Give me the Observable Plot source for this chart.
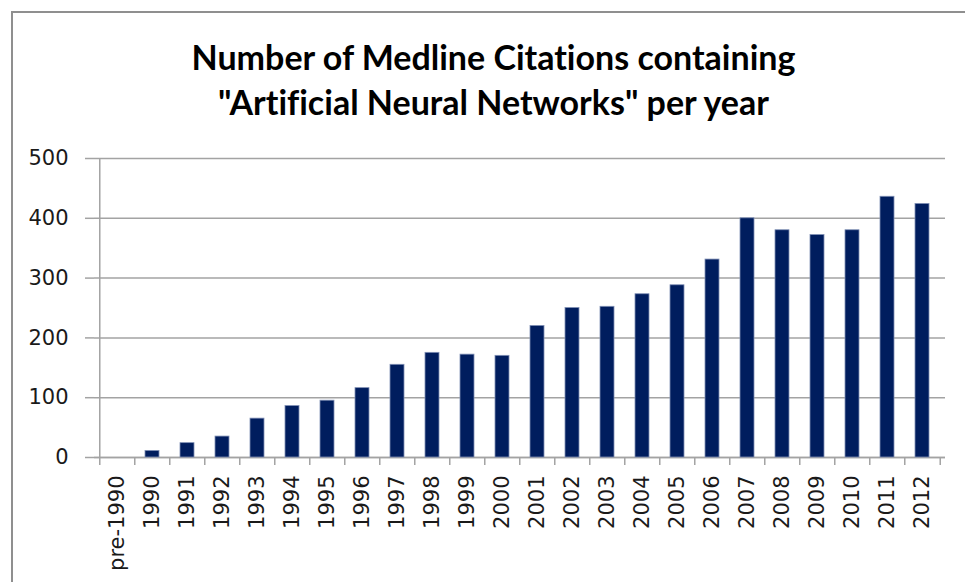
<!DOCTYPE html>
<html>
<head>
<meta charset="utf-8">
<script src="https://cdn.jsdelivr.net/npm/d3@7"></script>
<script src="https://cdn.jsdelivr.net/npm/@observablehq/plot@0.6"></script>
<style>
  html, body { margin: 0; padding: 0; background: #fff; }
  #wrap { position: relative; width: 965px; height: 582px; overflow: hidden; background: #fff; }
  #frame { position: absolute; left: 11px; top: 11px; width: 970px; height: 590px; border: 2px solid #8f8f8f; box-sizing: border-box; }
  #title { position: absolute; left: 0; top: 34px; width: 987px; text-align: center; font-family: Lato, "Open Sans", sans-serif; font-weight: 700; font-size: 34px; line-height: 45px; color: #000; font-variant-ligatures: none; }
  #chart { position: absolute; left: 0; top: 140px; width: 965px; }
</style>
</head>
<body>
<div id="wrap">
  <div id="frame"></div>
  <div id="title">Number of Medline Citations containing<br>"Artificial Neural Networks" per year</div>
  <div id="chart"></div>
</div>
<script>
const categories = ["pre-1990","1990","1991","1992","1993","1994","1995","1996","1997","1998","1999","2000","2001","2002","2003","2004","2005","2006","2007","2008","2009","2010","2011","2012"];
const values = [0,11,24,35,65,86,95,116,155,175,172,170,220,250,252,273,288,331,400,380,372,380,436,424];
const yTicks = [0,100,200,300,400,500];

const data = categories.map((c, i) => ({cat: c, value: values[i]}));

const W = 965, H = 442, mL = 94, mR = 20, mT = 18, mB = 125;
const step = (W - mL - mR) / categories.length;
const gray = "#a3a3a3";

const chart = Plot.plot({
  width: W, height: H,
  marginTop: mT, marginBottom: mB, marginLeft: mL, marginRight: mR,
  style: {fontFamily: "DejaVu Sans", fontSize: "21px", color: "#1a1a1a", background: "transparent", overflow: "visible"},
  x: {domain: categories, paddingInner: 0.6, paddingOuter: 0.3, label: null},
  y: {domain: [0, 500], ticks: yTicks, label: null},
  marks: [
    Plot.gridY(yTicks, {stroke: gray, strokeOpacity: 1, strokeWidth: 1.5}),
    Plot.axisY(yTicks, {tickSize: 9, tickPadding: 17, stroke: gray, strokeWidth: 1.5, label: null, fontSize: 21}),
    // vertical value axis line at the left edge of the first band
    Plot.ruleX([categories[0]], {dx: -step / 2, y1: 0, y2: 500, stroke: gray, strokeWidth: 1.5}),
    Plot.ruleY([0], {stroke: gray, strokeWidth: 1.5}),
    // category boundary ticks below the baseline
    Plot.ruleX(categories, {dx: -step / 2, y1: 0, y2: 0, insetBottom: -8, stroke: gray, strokeWidth: 1.5}),
    Plot.ruleX([categories[categories.length - 1]], {dx: step / 2, y1: 0, y2: 0, insetBottom: -8, stroke: gray, strokeWidth: 1.5}),
    Plot.barY(data, {x: "cat", y: "value", fill: "#001d5e", stroke: "#7f8fb5", strokeWidth: 0.8}),
    Plot.axisX({tickSize: 0, tickRotate: -90, tickPadding: 18, label: null, fontSize: 21})
  ]
});

document.getElementById("chart").appendChild(chart);
</script>
</body>
</html>
